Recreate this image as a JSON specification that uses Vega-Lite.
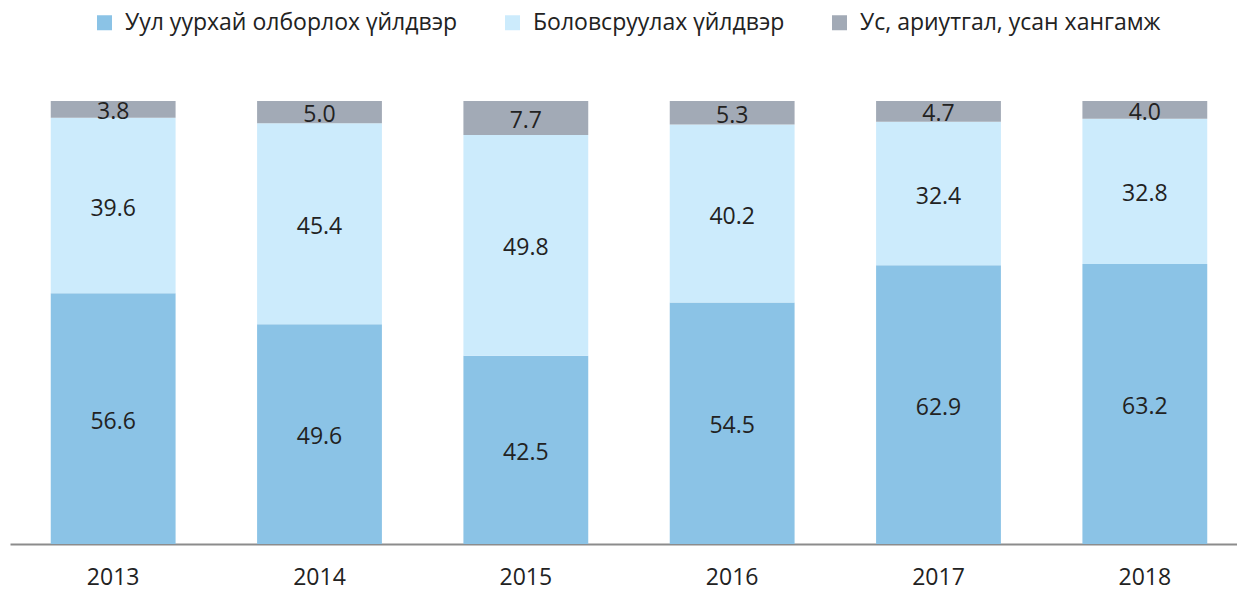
{
  "$schema": "https://vega.github.io/schema/vega-lite/v6.json",
  "width": 1238,
  "height": 443,
  "autosize": {"type": "none"},
  "padding": {"left": 10, "top": 101, "right": 0, "bottom": 46},
  "background": "white",
  "config": {"view": {"stroke": null}, "font": "Open Sans"},
  "data": {"values": [
    {"year": "2013", "cat": "Уул уурхай олборлох үйлдвэр", "o": 1, "v": 56.6},
    {"year": "2013", "cat": "Боловсруулах үйлдвэр", "o": 2, "v": 39.6},
    {"year": "2013", "cat": "Ус, ариутгал, усан хангамж", "o": 3, "v": 3.8},
    {"year": "2014", "cat": "Уул уурхай олборлох үйлдвэр", "o": 1, "v": 49.6},
    {"year": "2014", "cat": "Боловсруулах үйлдвэр", "o": 2, "v": 45.4},
    {"year": "2014", "cat": "Ус, ариутгал, усан хангамж", "o": 3, "v": 5.0},
    {"year": "2015", "cat": "Уул уурхай олборлох үйлдвэр", "o": 1, "v": 42.5},
    {"year": "2015", "cat": "Боловсруулах үйлдвэр", "o": 2, "v": 49.8},
    {"year": "2015", "cat": "Ус, ариутгал, усан хангамж", "o": 3, "v": 7.7},
    {"year": "2016", "cat": "Уул уурхай олборлох үйлдвэр", "o": 1, "v": 54.5},
    {"year": "2016", "cat": "Боловсруулах үйлдвэр", "o": 2, "v": 40.2},
    {"year": "2016", "cat": "Ус, ариутгал, усан хангамж", "o": 3, "v": 5.3},
    {"year": "2017", "cat": "Уул уурхай олборлох үйлдвэр", "o": 1, "v": 62.9},
    {"year": "2017", "cat": "Боловсруулах үйлдвэр", "o": 2, "v": 32.4},
    {"year": "2017", "cat": "Ус, ариутгал, усан хангамж", "o": 3, "v": 4.7},
    {"year": "2018", "cat": "Уул уурхай олборлох үйлдвэр", "o": 1, "v": 63.2},
    {"year": "2018", "cat": "Боловсруулах үйлдвэр", "o": 2, "v": 32.8},
    {"year": "2018", "cat": "Ус, ариутгал, усан хангамж", "o": 3, "v": 4.0}
  ]},
  "encoding": {
    "x": {
      "field": "year", "type": "nominal", "title": null,
      "scale": {"paddingInner": 0.395, "paddingOuter": 0.1975},
      "axis": {"labelAngle": 0, "ticks": false, "domainColor": "#8c8c8c", "domainWidth": 2, "labelFontSize": 23, "labelColor": "#222222", "labelPadding": 22, "labelFont": "Open Sans"}
    },
    "y": {"field": "v", "type": "quantitative", "stack": "zero", "scale": {"domain": [0, 100]}, "axis": null},
    "order": {"field": "o", "type": "quantitative"}
  },
  "layer": [
    {
      "mark": {"type": "bar"},
      "encoding": {
        "color": {
          "field": "cat", "type": "nominal",
          "scale": {"domain": ["Уул уурхай олборлох үйлдвэр", "Боловсруулах үйлдвэр", "Ус, ариутгал, усан хангамж"], "range": ["#8BC3E6", "#CCEBFC", "#A2AAB6"]},
          "legend": {"title": null, "orient": "none", "legendX": 83, "legendY": -90, "direction": "horizontal", "symbolType": "square", "symbolSize": 225, "symbolStrokeWidth": 0, "labelFontSize": 23, "labelColor": "#222222", "labelFont": "Open Sans", "labelLimit": 0, "columnPadding": 43, "labelOffset": 9}
        }
      }
    },
    {
      "mark": {"type": "text", "fontSize": 23, "color": "#222222", "font": "Open Sans", "dy": 3},
      "encoding": {
        "y": {"field": "v", "type": "quantitative", "stack": "zero", "bandPosition": 0.5},
        "text": {"field": "v", "type": "quantitative", "format": ".1f"}
      }
    }
  ]
}
